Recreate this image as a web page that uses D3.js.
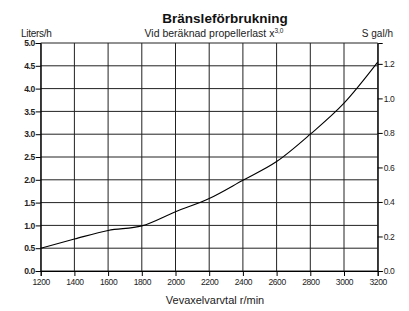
<!DOCTYPE html>
<html><head><meta charset="utf-8">
<script src="https://cdn.jsdelivr.net/npm/d3@7"></script>
<style>body{margin:0;background:#fff}svg{display:block;font-family:"Liberation Sans",Arial,sans-serif}</style>
</head><body>
<svg id="c" width="409" height="311"></svg>
<script>
const rpm = [1200,1400,1600,1800,2000,2200,2400,2600,2800,3000,3200];
const litersPerHour = [0.5,0.7,0.89,0.99,1.3,1.59,1.99,2.4,3.0,3.68,4.58];
const leftTicks = [0,0.5,1,1.5,2,2.5,3,3.5,4,4.5,5];
const rightTicks = [0,0.2,0.4,0.6,0.8,1.0,1.2];
const xTicks = [1200,1400,1600,1800,2000,2200,2400,2600,2800,3000,3200];
const LITERS_PER_GAL = 3.785;

const svg = d3.select("#c");
const m = {l:40.7, r:377.7, t:43, b:271};
const x = d3.scaleLinear().domain([1200,3200]).range([m.l,m.r]);
const y = d3.scaleLinear().domain([0,5]).range([m.b,m.t]);
const yg = d3.scaleLinear().domain([0,5/LITERS_PER_GAL]).range([m.b,m.t]);

// grid
svg.append("g").selectAll("line").data(xTicks).join("line")
  .attr("x1",d=>x(d)).attr("x2",d=>x(d)).attr("y1",m.t).attr("y2",m.b)
  .attr("stroke","#222").attr("stroke-width",1);
svg.append("g").selectAll("line").data(leftTicks).join("line")
  .attr("x1",m.l).attr("x2",m.r).attr("y1",d=>y(d)).attr("y2",d=>y(d))
  .attr("stroke","#222").attr("stroke-width",1);

// axes
const fmt = d3.format(".1f");
const la = svg.append("g").attr("transform",`translate(${m.l},0)`)
  .call(d3.axisLeft(y).tickValues(leftTicks).tickFormat(fmt).tickSize(5).tickPadding(1));
const ra = svg.append("g").attr("transform",`translate(${m.r},0)`)
  .call(d3.axisRight(yg).tickValues(rightTicks).tickFormat(fmt).tickSize(5).tickPadding(1));
const ba = svg.append("g").attr("transform",`translate(0,${m.b})`)
  .call(d3.axisBottom(x).tickValues(xTicks).tickFormat(d3.format("d")).tickSize(5).tickPadding(3));
[la,ra,ba].forEach(a=>{
  a.select(".domain").attr("stroke","#000");
  a.selectAll(".tick line").attr("stroke","#000");
  a.selectAll("text").attr("font-family","'Liberation Sans',Arial,sans-serif")
    .attr("font-size",8.5).attr("fill","#222").attr("letter-spacing","-0.4");
});
la.selectAll("text").attr("font-weight","bold").attr("font-size",8.5).attr("letter-spacing","-0.5");

// curve
const line = d3.line().x((d,i)=>x(rpm[i])).y(d=>y(d)).curve(d3.curveMonotoneX);
svg.append("path").attr("d",line(litersPerHour)).attr("fill","none")
  .attr("stroke","#000").attr("stroke-width",1.1);

// texts
svg.append("text").attr("x",225).attr("y",22.5).attr("text-anchor","middle")
  .attr("font-size",13.5).attr("font-weight","bold").attr("fill","#111").text("Bränsleförbrukning");
const sub = svg.append("text").attr("x",214).attr("y",36.5).attr("text-anchor","middle")
  .attr("font-size",10.5).attr("fill","#222");
sub.append("tspan").text("Vid beräknad propellerlast x");
sub.append("tspan").attr("font-size",6.5).attr("dy",-4).text("3,0");
svg.append("text").attr("x",21).attr("y",36.5).attr("font-size",10).attr("fill","#222")
  .attr("letter-spacing","-0.3").text("Liters/h");
svg.append("text").attr("x",393).attr("y",36.5).attr("text-anchor","end").attr("font-size",10)
  .attr("fill","#222").text("S gal/h");
svg.append("text").attr("x",215).attr("y",304).attr("text-anchor","middle").attr("font-size",11)
  .attr("fill","#222").text("Vevaxelvarvtal r/min");
</script>
</body></html>
